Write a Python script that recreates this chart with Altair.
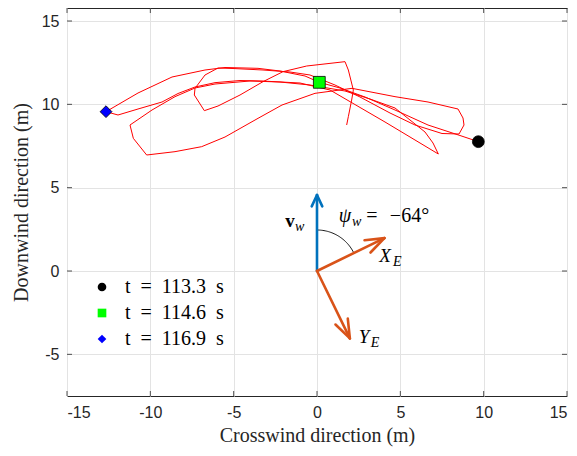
import altair as alt
import pandas as pd
import numpy as np

# ---- trajectory (crosswind x, downwind y) in metres ----
traj_x = [9.68, 8.58, 6.66, 4.68, 2.88, 1.38, 0.14, -0.72, -2.22, -3.54, -5.52, -6.72,
          -8.70, -10.74, -12.66, -11.94, -10.74, -9.30, -8.34, -7.32, -6.12, -4.62, -3.30,
          -1.02, 0.78, 4.08, 7.28, 6.96, 6.48, 5.88, 4.68, 3.18, 1.68, -0.42, -2.22, -4.02,
          -6.12, -7.32, -8.52, -9.90, -11.22, -11.02, -10.22, -8.52, -6.92, -5.52, -3.54,
          -2.10, -0.12, 2.10, 4.68, 6.66, 8.46, 8.76, 8.82, 8.52, 7.50, 5.88, 4.38, 2.58,
          1.08, -0.42, -1.62, -3.24, -5.04, -5.94, -6.72, -7.32, -7.36, -6.76, -5.94, -4.62,
          -3.24, -2.04, -0.62, 1.68, 1.88, 2.18, 2.08, 1.88, 1.78]
traj_y = [7.76, 8.13, 8.76, 9.66, 10.44, 10.98, 11.32, 11.70, 12.00, 12.16, 12.21, 12.06,
          11.64, 10.68, 9.56, 9.36, 9.72, 10.14, 10.65, 11.04, 11.30, 11.43, 11.40,
          11.28, 10.86, 8.94, 7.02, 7.68, 8.34, 8.82, 9.78, 10.32, 10.80, 11.16, 11.34, 11.40,
          11.22, 10.98, 10.46, 9.66, 8.76, 7.96, 6.96, 7.16, 7.46, 8.04, 9.16,
          9.96, 10.66, 10.96, 10.46, 10.14, 9.72, 9.18, 8.76, 8.22, 8.25, 8.76, 9.48, 10.44,
          11.16, 11.76, 11.94, 12.06, 12.15, 12.18, 11.76, 10.96, 10.56, 9.62, 9.90, 10.56,
          11.36, 11.96, 12.30, 12.56, 12.06, 10.86, 10.26, 9.26, 8.76]

# ---- time markers ----
marker_labels = ["t\u2002=\u2002113.3\u2002s", "t\u2002=\u2002114.6\u2002s", "t\u2002=\u2002116.9\u2002s"]
marker_x = [9.68, 0.14, -12.66]
marker_y = [7.76, 11.32, 9.56]
marker_fill = ["#000000", "#00FF00", "#0000FF"]
marker_shape = ["circle", "square", "diamond"]

# ---- axes ----
x_ticks = [-15, -10, -5, 0, 5, 10, 15]
y_ticks = [-5, 0, 5, 10, 15]
x_domain = [-15, 15]
y_domain = [-7.5, 15.78]

# ---- wind / frame arrows ----
psi_deg = -64
wind_len = 4.56
frame_len = 4.5
arc_r = 2.46
arrow_names = ["v_w", "X_E", "Y_E"]
arrow_angle = [90, 90 + psi_deg, psi_deg]       # degrees from +x axis
arrow_len = [wind_len, frame_len, frame_len]
arrow_color = ["#0072BD", "#D95319", "#D95319"]
head_len = [0.75, 1.2, 1.2]
head_half = [25, 20, 20]

W, H = 500, 388

segs = []
for name, ang, L, col, hl, ha in zip(arrow_names, arrow_angle, arrow_len, arrow_color, head_len, head_half):
    a = np.radians(ang)
    tx, ty = L * np.cos(a), L * np.sin(a)
    segs.append(dict(x=0.0, y=0.0, x2=tx, y2=ty, col=col))
    for s in (1, -1):
        b = a + np.pi + s * np.radians(ha)
        segs.append(dict(x=tx, y=ty, x2=tx + hl * np.cos(b), y2=ty + hl * np.sin(b), col=col))
seg_df = pd.DataFrame(segs)

th = np.radians(np.linspace(90, 90 + psi_deg, 40))
arc_df = pd.DataFrame({"x": arc_r * np.cos(th), "y": arc_r * np.sin(th), "o": np.arange(40)})

traj_df = pd.DataFrame({"x": traj_x, "y": traj_y, "o": range(len(traj_x))})
mark_df = pd.DataFrame({"x": marker_x, "y": marker_y, "label": marker_labels})

# annotation texts: (text, x, y, style, size)
ann = [
    ("v", -1.62, 3.00, "bold", 19),
    ("w", -1.04, 2.66, "italic", 14),
    ("ψ", 1.68, 3.30, "italic", 20),
    ("w", 2.38, 2.92, "italic", 14),
    ("=", 3.30, 3.30, "normal", 20),
    ("−64°", 5.55, 3.30, "normal", 20),
    ("X", 4.08, 0.90, "italic", 19),
    ("E", 4.82, 0.54, "italic", 14),
    ("Y", 2.82, -3.96, "italic", 19),
    ("E", 3.48, -4.32, "italic", 14),
]
ann_df = pd.DataFrame(ann, columns=["t", "x", "y", "style", "size"])

xs = alt.Scale(domain=x_domain, nice=False, zero=False)
ys = alt.Scale(domain=y_domain, nice=False, zero=False)

SERIF = "Liberation Serif"
SANS = "Liberation Sans"

xaxis = alt.Axis(values=x_ticks, labelExpr="toString(datum.value)", title="Crosswind direction (m)",
                 grid=True, ticks=False, domain=False, labelPadding=8, titlePadding=5,
                 labelFont=SANS, labelFontSize=16, labelColor="#262626",
                 titleFont=SERIF, titleFontSize=20, titleFontWeight="normal", titleColor="#262626")
yaxis = alt.Axis(values=y_ticks, labelExpr="toString(datum.value)", title="Downwind direction (m)",
                 grid=True, ticks=False, domain=False, labelPadding=8, titlePadding=10,
                 labelFont=SANS, labelFontSize=16, labelColor="#262626",
                 titleFont=SERIF, titleFontSize=20, titleFontWeight="normal", titleColor="#262626")

base_x = alt.X("x:Q", scale=xs, axis=xaxis)
base_y = alt.Y("y:Q", scale=ys, axis=yaxis)

traj = alt.Chart(traj_df).mark_line(color="#FF0000", strokeWidth=1, clip=True).encode(
    x=base_x, y=base_y, order="o:Q")

arrows = alt.Chart(seg_df).mark_rule(strokeWidth=2.6, strokeCap="round").encode(
    x=alt.X("x:Q", scale=xs), y=alt.Y("y:Q", scale=ys), x2="x2:Q", y2="y2:Q",
    color=alt.Color("col:N", scale=None))

arc = alt.Chart(arc_df).mark_line(color="black", strokeWidth=0.9).encode(
    x=alt.X("x:Q", scale=xs), y=alt.Y("y:Q", scale=ys), order="o:Q")

texts = []
for style in ["bold", "italic", "normal"]:
    sub = ann_df[ann_df["style"] == style]
    kw = dict(font=SERIF, align="center", baseline="middle", color="black")
    if style == "bold":
        kw["fontWeight"] = "bold"
    if style == "italic":
        kw["fontStyle"] = "italic"
    texts.append(alt.Chart(sub).mark_text(**kw).encode(
        x=alt.X("x:Q", scale=xs), y=alt.Y("y:Q", scale=ys), text="t:N",
        size=alt.Size("size:Q", scale=None)))

leg = alt.Legend(title=None, orient="none", legendX=25, legendY=269,
                 labelFont=SERIF, labelFontSize=20, labelColor="black",
                 symbolSize=75, rowPadding=6, labelOffset=13, padding=0,
                 symbolStrokeColor="black", symbolStrokeWidth=0.8, symbolOpacity=1)

markers = alt.Chart(mark_df).mark_point(filled=True, stroke="black", strokeWidth=0.8, opacity=1, size=140).encode(
    x=alt.X("x:Q", scale=xs), y=alt.Y("y:Q", scale=ys),
    color=alt.Color("label:N", scale=alt.Scale(domain=marker_labels, range=marker_fill), legend=leg),
    shape=alt.Shape("label:N", scale=alt.Scale(domain=marker_labels, range=marker_shape), legend=leg))

# inside tick marks on all four sides
xt_df = pd.DataFrame({"x": x_ticks})
yt_df = pd.DataFrame({"y": y_ticks})
tick_col = "#262626"
xt_bot = alt.Chart(xt_df).mark_rule(color=tick_col, strokeWidth=0.8).encode(
    x=alt.X("x:Q", scale=xs), y=alt.value(H), y2=alt.value(H - 5))
xt_top = alt.Chart(xt_df).mark_rule(color=tick_col, strokeWidth=0.8).encode(
    x=alt.X("x:Q", scale=xs), y=alt.value(0), y2=alt.value(5))
yt_l = alt.Chart(yt_df).mark_rule(color=tick_col, strokeWidth=0.8).encode(
    y=alt.Y("y:Q", scale=ys), x=alt.value(0), x2=alt.value(5))
yt_r = alt.Chart(yt_df).mark_rule(color=tick_col, strokeWidth=0.8).encode(
    y=alt.Y("y:Q", scale=ys), x=alt.value(W), x2=alt.value(W - 5))

chart = alt.layer(traj, arc, arrows, *texts, markers, xt_bot, xt_top, yt_l, yt_r).properties(
    width=W, height=H,
    autosize=alt.AutoSizeParams(type="none"),
    padding={"left": 59, "top": 0, "right": 2, "bottom": 60},
    background="white",
).configure_view(
    stroke="#262626", strokeWidth=1
).configure_axis(
    gridColor="#E3E3E3", gridWidth=1
)

chart.save("out.html", embed_options={"renderer": "svg", "actions": False})
